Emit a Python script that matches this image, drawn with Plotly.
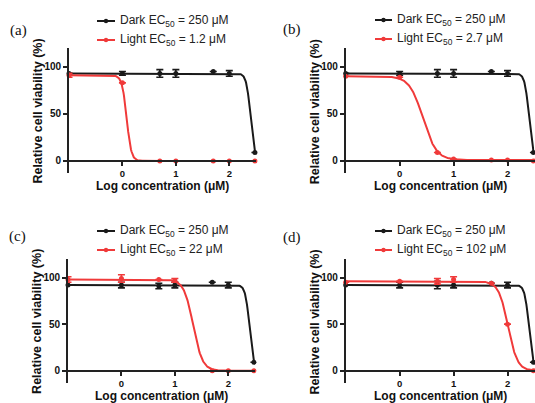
import numpy as np
import plotly.graph_objects as go

# ---------------- data ----------------
log_conc = [-1, 0, 0.7, 1, 1.7, 2, 2.48]
panels = ["(a)", "(b)", "(c)", "(d)"]

dark_a = [93, 93, 93, 93, 95, 93, 9]
dark_a_err = [0, 2, 4, 4, 0, 3, 0]
light_a = [91, 83, 0, 0, 0, 0, 0]
light_a_err = [2, 0, 0, 0, 0, 0, 0]

dark_b = [93, 93, 93, 93, 95, 93, 9]
dark_b_err = [0, 2, 4, 4, 0, 3, 0]
light_b = [90, 89, 9, 2, 1, 1, 0]
light_b_err = [0, 0, 0, 0, 0, 0, 0]

dark_c = [92, 92, 91, 92, 95, 92, 9]
dark_c_err = [0, 3, 3, 3, 0, 3, 0]
light_c = [98, 99, 98, 97, 0, 0, 0]
light_c_err = [3, 4, 0, 2, 0, 0, 0]

dark_d = [92, 92, 92, 92, 94, 92, 9]
dark_d_err = [0, 3, 4, 3, 0, 3, 0]
light_d = [95, 96, 96, 98, 94, 50, 0]
light_d_err = [0, 0, 3, 3, 0, 0, 0]

# fitted dose-response parameters (top, bottom, EC50 in uM, hill slope)
dark_fit = [[93, 0, 250, 11], [93, 0, 250, 11], [92, 0, 250, 11], [92, 0, 250, 11]]
light_fit = [[91, 0, 1.2, 10], [90, 1, 2.7, 3.5], [98, 0, 22, 5], [96, 0, 102, 5]]

dark_labels = ["250", "250", "250", "250"]
light_labels = ["1.2", "2.7", "22", "102"]

x_ticks = [0, 1, 2]
y_ticks = [0, 50, 100]

dark_vals = [dark_a, dark_b, dark_c, dark_d]
dark_errs = [dark_a_err, dark_b_err, dark_c_err, dark_d_err]
light_vals = [light_a, light_b, light_c, light_d]
light_errs = [light_a_err, light_b_err, light_c_err, light_d_err]

# ---------------- layout helpers ----------------
W, H = 535, 403
RED = "#f03a3a"
BLK = "#1a1a1a"
YMIN, YMAX = -13, 120


def pxx(x):
    return x / W


def pxy(y):
    return 1 - y / H


def curve(p, xs):
    top, bot, ec50, h = p
    return bot + (top - bot) / (1 + 10 ** (h * (xs - np.log10(ec50))))


# pixel boxes for each panel: (left, right, top, bottom)
boxes = [(69, 256, 48, 173.2), (345.7, 534.5, 48, 173.2),
         (68, 255, 259, 382.8), (345.7, 534.5, 259, 382.8)]
label_pos = [(18, 31), (292, 29), (17, 236), (292, 237)]
legend_pos = [(97, 115, 21, 40), (375, 392, 20, 39),
              (97, 115, 231, 250), (375, 392, 231, 250)]

fig = go.Figure()
annotations = []
shapes = []
xs = np.linspace(-1, 2.48, 400)
font_main = "Liberation Sans, Arial, sans-serif"

for i in range(4):
    xa = "x" if i == 0 else f"x{i+1}"
    ya = "y" if i == 0 else f"y{i+1}"
    l, r, t, b = boxes[i]
    xdom = [pxx(l), pxx(r)]
    ydom = [pxy(b), pxy(t)]
    xpos = ydom[0] + (0 - YMIN) / (YMAX - YMIN) * (ydom[1] - ydom[0])

    # dark fit + points
    fig.add_trace(go.Scatter(x=xs, y=curve(dark_fit[i], xs), mode="lines",
                             line=dict(color=BLK, width=2), xaxis=xa, yaxis=ya,
                             showlegend=False, hoverinfo="skip"))
    fig.add_trace(go.Scatter(x=log_conc, y=dark_vals[i], mode="markers",
                             marker=dict(color=BLK, size=5),
                             error_y=dict(type="data", array=dark_errs[i], color=BLK,
                                          thickness=1.6, width=3.5),
                             xaxis=xa, yaxis=ya, showlegend=False, cliponaxis=False))
    # light fit + points
    fig.add_trace(go.Scatter(x=xs, y=curve(light_fit[i], xs), mode="lines",
                             line=dict(color=RED, width=2), xaxis=xa, yaxis=ya,
                             showlegend=False, hoverinfo="skip"))
    fig.add_trace(go.Scatter(x=log_conc, y=light_vals[i], mode="markers",
                             marker=dict(color=RED, size=5),
                             error_y=dict(type="data", array=light_errs[i], color=RED,
                                          thickness=1.6, width=3.5),
                             xaxis=xa, yaxis=ya, showlegend=False, cliponaxis=False))

    xkey = "xaxis" if i == 0 else f"xaxis{i+1}"
    ykey = "yaxis" if i == 0 else f"yaxis{i+1}"
    fig.update_layout(**{
        xkey: dict(domain=xdom, range=[-1, 2.5], anchor="free", position=xpos,
                   automargin=False,
                   showline=True, linecolor="#222", linewidth=1.7, ticks="outside",
                   ticklen=4, tickwidth=1.7, tickcolor="#222", tickvals=x_ticks,
                   ticktext=[str(v) for v in x_ticks], showgrid=False, zeroline=False,
                   tickfont=dict(family=font_main, size=9.5, color="#111", weight="bold")),
        ykey: dict(domain=ydom, range=[YMIN, YMAX], anchor=xa, automargin=False,
                   showline=True, linecolor="#222", linewidth=1.7, ticks="outside",
                   ticklen=4, tickwidth=1.7, tickcolor="#222", tickvals=y_ticks,
                   showgrid=False, zeroline=False,
                   tickfont=dict(family=font_main, size=10, color="#111", weight="bold")),
    })

    # axis titles
    y0px = H * (1 - xpos)
    annotations.append(dict(text="Log concentration (μM)", xref="paper", yref="paper",
                            x=pxx((l + r) / 2), y=pxy(y0px + 25.5), showarrow=False,
                            xanchor="center", yanchor="middle",
                            font=dict(family=font_main, size=12, color="#111", weight="bold")))
    annotations.append(dict(text="Relative cell viability (%)", xref="paper", yref="paper",
                            x=pxx(l - 31), y=pxy((t + b) / 2 + 1), showarrow=False,
                            textangle=-90, xanchor="center", yanchor="middle",
                            font=dict(family=font_main, size=12.5, color="#111", weight="bold")))
    # panel label
    lx, ly = label_pos[i]
    annotations.append(dict(text=panels[i], xref="paper", yref="paper",
                            x=pxx(lx), y=pxy(ly), showarrow=False,
                            xanchor="center", yanchor="middle",
                            font=dict(family="Liberation Serif, Times New Roman, serif",
                                      size=15, color="#111")))
    # legend
    gx0, gx1, gy0, gy1 = legend_pos[i]
    for gy, col, txt in [(gy0, BLK, f"Dark EC<sub>50</sub> = {dark_labels[i]} μM"),
                         (gy1, RED, f"Light EC<sub>50</sub> = {light_labels[i]} μM")]:
        shapes.append(dict(type="line", xref="paper", yref="paper",
                           x0=pxx(gx0), x1=pxx(gx1), y0=pxy(gy), y1=pxy(gy),
                           line=dict(color=col, width=2)))
        cx = (gx0 + gx1) / 2
        shapes.append(dict(type="circle", xref="paper", yref="paper",
                           x0=pxx(cx - 2.2), x1=pxx(cx + 2.2), y0=pxy(gy + 2.2), y1=pxy(gy - 2.2),
                           fillcolor=col, line=dict(color=col, width=0)))
        annotations.append(dict(text=txt, xref="paper", yref="paper",
                                x=pxx(gx1 + 3), y=pxy(gy), showarrow=False,
                                xanchor="left", yanchor="middle",
                                font=dict(family=font_main, size=12, color="#222")))

fig.update_layout(width=W, height=H, autosize=False,
                  margin=dict(l=0, r=0, t=0, b=0),
                  paper_bgcolor="white", plot_bgcolor="white",
                  annotations=annotations, shapes=shapes, showlegend=False)

fig.write_html("out.html", config={"displayModeBar": False},
               post_script="document.body.style.margin='0';document.body.style.overflow='hidden';")
